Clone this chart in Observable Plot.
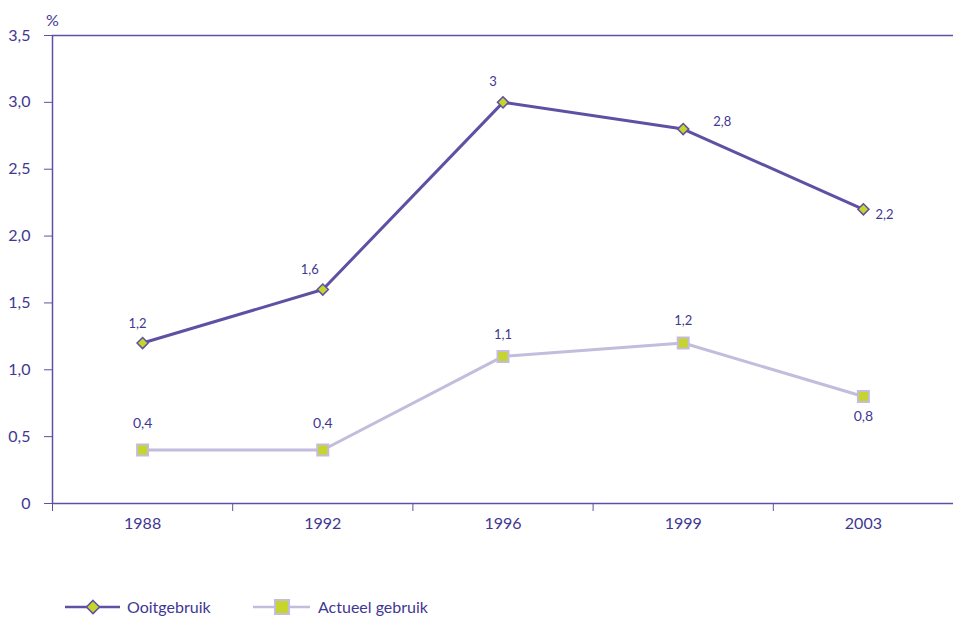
<!DOCTYPE html>
<html>
<head>
<meta charset="utf-8">
<script src="https://cdn.jsdelivr.net/npm/d3@7"></script>
<script src="https://cdn.jsdelivr.net/npm/@observablehq/plot@0.6"></script>
<style>
  body { margin: 0; background: #fff; font-family: Lato, "Open Sans", sans-serif; }
  #chart svg { display: block; }
  #legend { display: block; }
</style>
</head>
<body>
<div id="chart"></div>
<div id="legend"></div>
<script>
const years = ["1988", "1992", "1996", "1999", "2003"];
const ooitgebruik = [1.2, 1.6, 3.0, 2.8, 2.2];
const actueelGebruik = [0.4, 0.4, 1.1, 1.2, 0.8];
const yTicks = [0, 0.5, 1.0, 1.5, 2.0, 2.5, 3.0, 3.5];
const seriesNames = ["Ooitgebruik", "Actueel gebruik"];

const TEXT = "#3f3892";
const DARK = "#5f50a3";
const LIGHT = "#c3bcdc";
const GREEN = "#c5d52b";

const fmt = v => v === 0 ? "0" : String(v).replace(".", ",");
const fmtTick = v => v === 0 ? "0" : v.toFixed(1).replace(".", ",");

const ooit = years.map((y, i) => ({i, year: y, value: ooitgebruik[i]}));
const act = years.map((y, i) => ({i, year: y, value: actueelGebruik[i]}));

const txt = (data, idx, opts) => Plot.text(data.filter(d => idx.includes(d.i)), {
  x: "i", y: "value", text: d => fmt(d.value), fill: TEXT, fontSize: 13, ...opts
});

const plot = Plot.plot({
  width: 953,
  height: 560,
  marginLeft: 52,
  marginRight: 0,
  marginTop: 35,
  marginBottom: 57,
  style: {fontFamily: "Lato, 'Open Sans', sans-serif", fontSize: "16px", color: TEXT, background: "#fff"},
  x: {type: "linear", domain: [-0.5, 4.5]},
  y: {domain: [0, 3.5]},
  marks: [
    Plot.axisY({ticks: yTicks, tickFormat: fmtTick, tickSize: 8, tickPadding: 14, fontSize: 16, stroke: DARK, fill: TEXT, label: null}),
    Plot.axisX({ticks: [-0.5, 0.5, 1.5, 2.5, 3.5], tickSize: 8, tickFormat: () => "", stroke: DARK, label: null}),
    Plot.axisX({ticks: [0, 1, 2, 3, 4], tickSize: 0, tickPadding: 14, tickFormat: i => years[i], fontSize: 16, fill: TEXT, label: null}),
    Plot.ruleY([0, 3.5], {stroke: DARK, strokeWidth: 1.5}),
    Plot.ruleX([-0.5], {y1: 0, y2: 3.5, stroke: DARK, strokeWidth: 1.5}),
    Plot.text(["%"], {frameAnchor: "top-left", textAnchor: "middle", dy: -21, fontSize: 16, fill: TEXT}),
    Plot.line(act, {x: "i", y: "value", stroke: LIGHT, strokeWidth: 3}),
    Plot.dot(act, {x: "i", y: "value", symbol: "square", r: 6.2, fill: GREEN, stroke: LIGHT, strokeWidth: 2}),
    Plot.line(ooit, {x: "i", y: "value", stroke: DARK, strokeWidth: 3}),
    Plot.dot(ooit, {x: "i", y: "value", symbol: "diamond2", r: 5, fill: GREEN, stroke: DARK, strokeWidth: 1.5}),
    txt(ooit, [0], {dx: -5, dy: -19}),
    txt(ooit, [1], {dx: -13, dy: -20}),
    txt(ooit, [2], {dx: -10, dy: -21}),
    txt(ooit, [3], {dx: 39, dy: -7}),
    txt(ooit, [4], {dx: 21, dy: 5}),
    txt(act, [0, 1], {dy: -26, fontSize: 14}),
    txt(act, [2, 3], {dy: -22}),
    txt(act, [4], {dy: 20, fontSize: 14})
  ]
});
document.getElementById("chart").appendChild(plot);

// Legend
const lg = d3.select("#legend").append("svg").attr("width", 953).attr("height", 58)
  .style("font-family", "Lato, 'Open Sans', sans-serif");
const ly = 47;
lg.append("line").attr("x1", 65).attr("x2", 120).attr("y1", ly).attr("y2", ly).attr("stroke", DARK).attr("stroke-width", 2.5);
lg.append("path").attr("d", d3.symbol(d3.symbolDiamond2, 110)()).attr("transform", `translate(93,${ly})`)
  .attr("fill", GREEN).attr("stroke", DARK).attr("stroke-width", 1.5);
lg.append("text").attr("x", 127).attr("y", ly).attr("dy", "0.35em").attr("fill", TEXT).attr("font-size", 16).text(seriesNames[0]);
lg.append("line").attr("x1", 253).attr("x2", 310).attr("y1", ly).attr("y2", ly).attr("stroke", LIGHT).attr("stroke-width", 2.5);
lg.append("rect").attr("x", 275).attr("y", ly - 7).attr("width", 14).attr("height", 14)
  .attr("fill", GREEN).attr("stroke", LIGHT).attr("stroke-width", 2);
lg.append("text").attr("x", 318).attr("y", ly).attr("dy", "0.35em").attr("fill", TEXT).attr("font-size", 16).text(seriesNames[1]);
</script>
</body>
</html>
